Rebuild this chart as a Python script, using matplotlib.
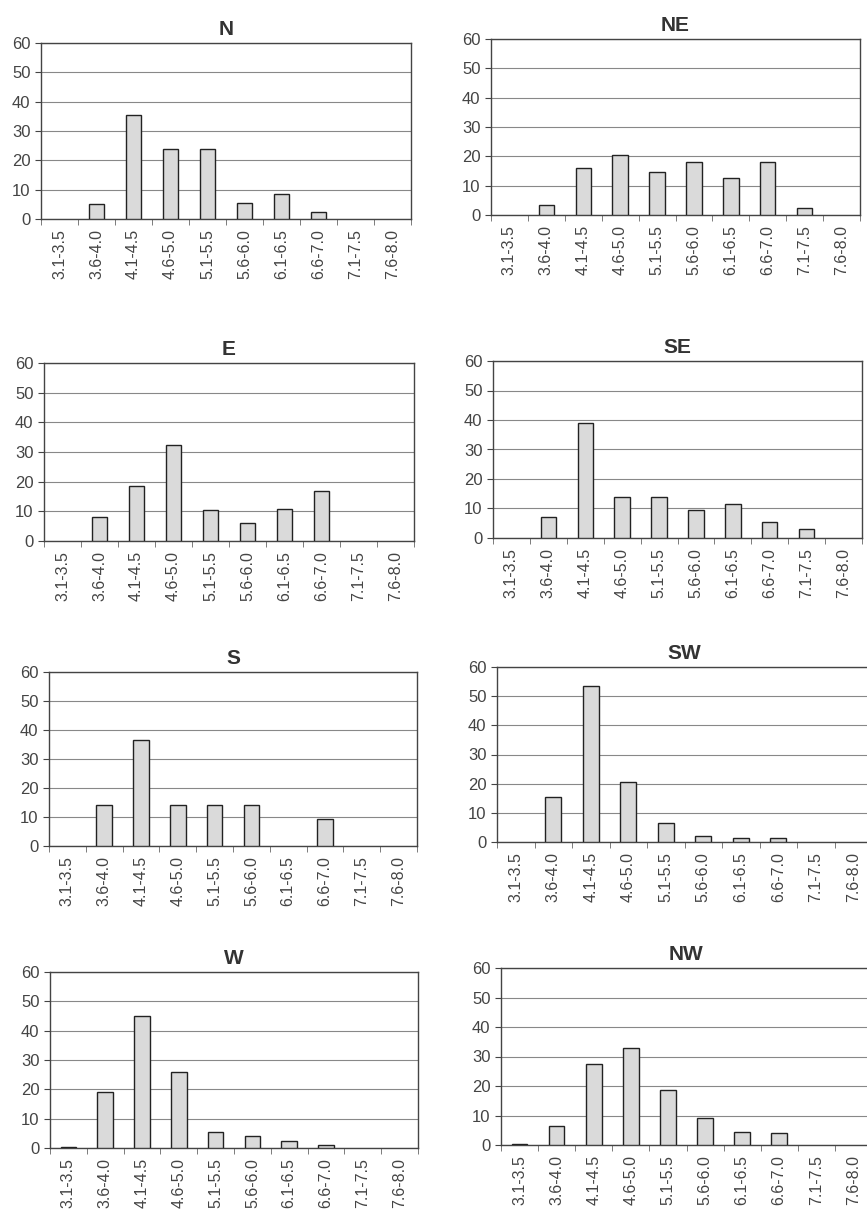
import matplotlib.pyplot as plt
import numpy as np

plt.rcParams['font.family'] = ['Liberation Sans', 'DejaVu Sans']

categories = ["3.1-3.5", "3.6-4.0", "4.1-4.5", "4.6-5.0", "5.1-5.5",
              "5.6-6.0", "6.1-6.5", "6.6-7.0", "7.1-7.5", "7.6-8.0"]

n_vals = [0, 5, 35.5, 24, 24, 5.5, 8.5, 2.5, 0, 0]
ne_vals = [0, 3.5, 16, 20.5, 14.5, 18, 12.5, 18, 2.5, 0]
e_vals = [0, 8, 18.5, 32.5, 10.5, 6.2, 10.8, 16.8, 0, 0]
se_vals = [0, 7, 39, 14, 14, 9.5, 11.5, 5.5, 3, 0]
s_vals = [0, 14, 36.5, 14, 14, 14.3, 0, 9.3, 0, 0]
sw_vals = [0, 15.5, 53.5, 20.5, 6.5, 2, 1.5, 1.5, 0, 0]
w_vals = [0.5, 19, 45, 26, 5.5, 4, 2.5, 1, 0, 0]
nw_vals = [0.5, 6.5, 27.5, 33, 18.5, 9, 4.5, 4, 0, 0]

titles = ["N", "NE", "E", "SE", "S", "SW", "W", "NW"]
series = [n_vals, ne_vals, e_vals, se_vals, s_vals, sw_vals, w_vals, nw_vals]

# axes boxes in pixels: left, top, right, bottom
boxes = [(41, 43, 411, 219), (491, 39, 860, 215),
         (44, 363, 414, 541), (493, 361, 862, 538),
         (49, 672, 417, 846), (497, 667, 872, 842),
         (50, 972, 418, 1148), (501, 968, 872, 1145)]

W, H = 867, 1219
fig = plt.figure(figsize=(W / 100, H / 100), dpi=100)

for title, vals, (l, t, r, b) in zip(titles, series, boxes):
    ax = fig.add_axes([l / W, 1 - b / H, (r - l) / W, (b - t) / H])
    x = np.arange(len(categories))
    # zero bins are left empty, as in the original
    shown = [i for i, v in enumerate(vals) if v > 0]
    ax.bar(x[shown], [vals[i] for i in shown], width=0.42, color="#dadada",
           edgecolor="#222222", linewidth=1.0, zorder=3)
    ax.set_xlim(-0.5, len(categories) - 0.5)
    ax.set_ylim(0, 60)
    ax.set_yticks(range(0, 61, 10))
    ax.set_xticks(x)
    ax.set_xticklabels(categories, rotation=90, fontsize=11.5, color="#444444")
    ax.set_xticks(np.arange(-0.5, len(categories), 1), minor=True)
    ax.tick_params(axis="x", which="major", length=0, pad=7)
    ax.tick_params(axis="x", which="minor", length=4, color="#666666")
    ax.tick_params(axis="y", labelsize=12, colors="#444444", length=4)
    ax.yaxis.grid(True, color="#888888", linewidth=0.8, zorder=0)
    for sp in ax.spines.values():
        sp.set_color("#444444")
        sp.set_linewidth(1.0)
    ax.set_title(title, fontsize=15, fontweight="bold", color="#333333", pad=6)

fig.savefig("out.png", dpi=100)
